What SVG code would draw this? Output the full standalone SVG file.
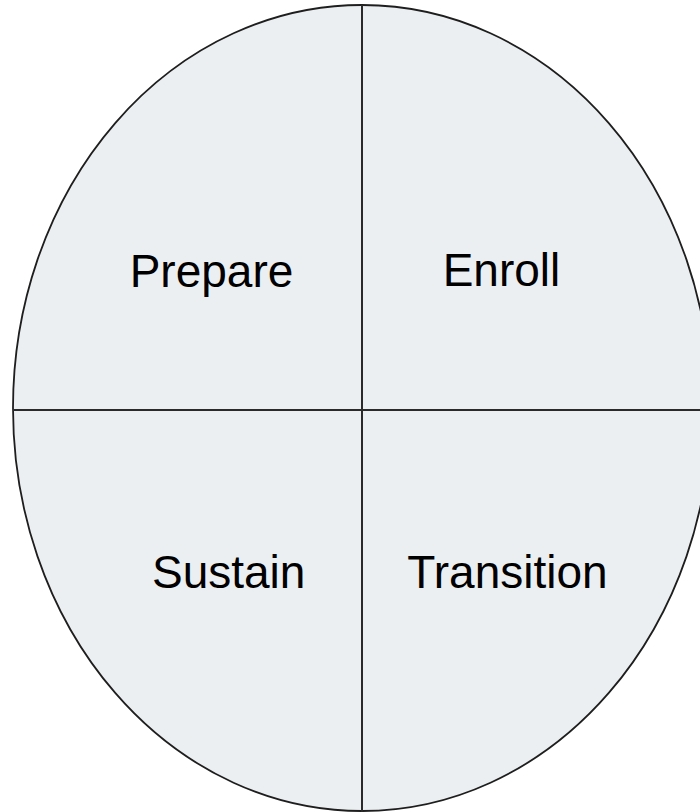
<svg xmlns="http://www.w3.org/2000/svg" width="700" height="812" viewBox="0 0 700 812">
<style>
.lbl{font-family:"Liberation Sans",Arial,sans-serif;font-size:46px;fill:#000;text-anchor:middle}
.div{stroke:#2a2a2a;stroke-width:2;fill:none}
</style>
<rect width="700" height="812" fill="#fff"/>
<g id="circle">
<ellipse cx="362" cy="408" rx="349" ry="403" fill="#eceff1" stroke="#1e1e1e" stroke-width="1.8"/>
</g>
<g id="connectors">
<line class="div" x1="362" y1="5" x2="362" y2="812"/>
<line class="div" x1="13" y1="410" x2="700" y2="410"/>
</g>
<g id="prepare"><text class="lbl" x="211.5" y="287">Prepare</text></g>
<g id="enroll"><text class="lbl" x="501.5" y="286">Enroll</text></g>
<g id="sustain"><text class="lbl" x="228.7" y="588">Sustain</text></g>
<g id="transition"><text class="lbl" x="507.5" y="587.5">Transition</text></g>
</svg>
